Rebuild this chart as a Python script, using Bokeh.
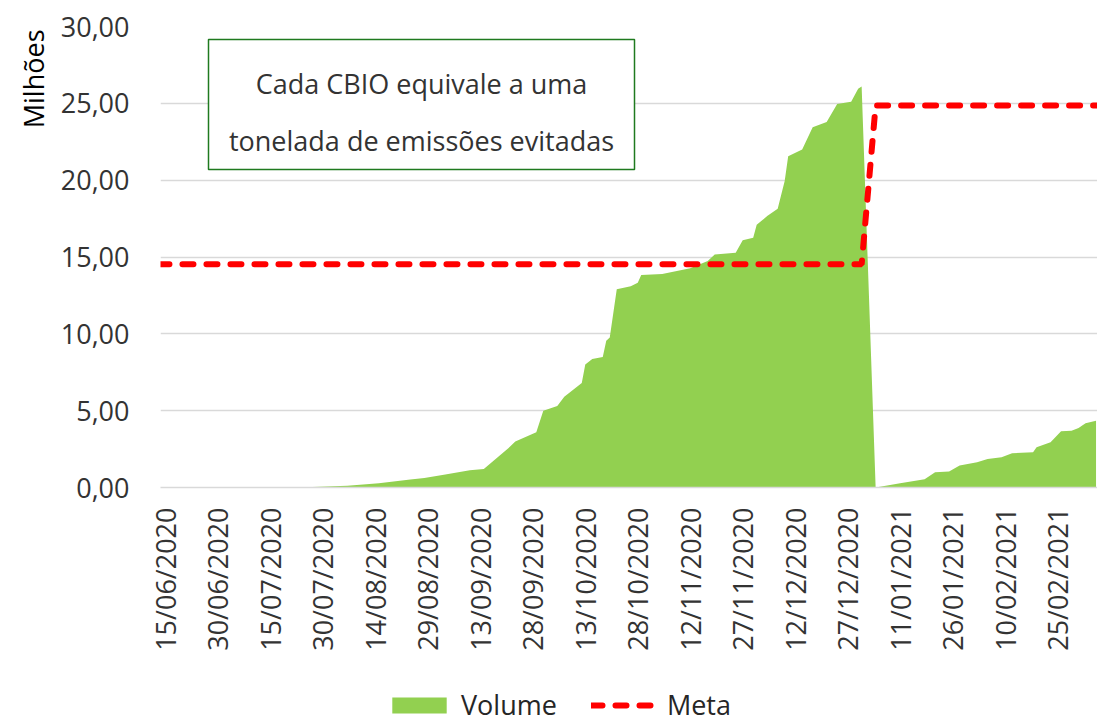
import math
import pandas as pd
from bokeh.plotting import figure
from bokeh.layouts import column, row
from bokeh.models import (FixedTicker, Range1d, Legend, LegendItem, Label, Title,
                          BoxAnnotation, DatetimeTickFormatter, Spacer)
from bokeh.embed import file_html
from bokeh.resources import INLINE

# ---------------- data ----------------
vol_dates = [
    "14/06/2020", "20/07/2020", "27/07/2020", "06/08/2020", "15/08/2020",
    "24/08/2020", "28/08/2020", "03/09/2020", "10/09/2020", "14/09/2020",
    "21/09/2020", "23/09/2020", "29/09/2020", "01/10/2020", "05/10/2020",
    "07/10/2020", "12/10/2020", "13/10/2020", "15/10/2020", "18/10/2020",
    "19/10/2020", "20/10/2020", "22/10/2020", "26/10/2020", "28/10/2020",
    "29/10/2020", "04/11/2020", "12/11/2020", "17/11/2020", "19/11/2020",
    "25/11/2020", "27/11/2020", "30/11/2020", "01/12/2020", "04/12/2020",
    "07/12/2020", "09/12/2020", "10/12/2020", "14/12/2020", "17/12/2020",
    "21/12/2020", "24/12/2020", "28/12/2020", "30/12/2020", "31/12/2020",
    "04/01/2021", "11/01/2021", "18/01/2021", "21/01/2021", "25/01/2021",
    "28/01/2021", "02/02/2021", "05/02/2021", "09/02/2021", "12/02/2021",
    "18/02/2021", "19/02/2021", "23/02/2021", "26/02/2021", "01/03/2021",
    "03/03/2021", "05/03/2021", "08/03/2021",
]
vol_values = [
    0.0, 0.0, 0.04, 0.12, 0.27,
    0.52, 0.62, 0.85, 1.12, 1.20,
    2.55, 3.00, 3.60, 5.00, 5.30,
    5.90, 6.80, 8.00, 8.36, 8.50,
    9.55, 9.76, 12.90, 13.10, 13.33,
    13.83, 13.90, 14.26, 14.74, 15.17,
    15.28, 16.09, 16.26, 17.10, 17.66,
    18.14, 19.94, 21.56, 22.00, 23.44,
    23.79, 24.96, 25.10, 25.95, 26.10,
    0.0, 0.28, 0.54, 1.00, 1.04,
    1.43, 1.64, 1.86, 1.97, 2.23,
    2.29, 2.62, 2.94, 3.66, 3.70,
    3.88, 4.18, 4.35,
]
meta_dates = ["13/06/2020", "31/12/2020", "04/01/2021", "08/03/2021"]
meta_values = [14.53, 14.53, 24.86, 24.86]

x_tick_labels = [
    "15/06/2020", "30/06/2020", "15/07/2020", "30/07/2020", "14/08/2020",
    "29/08/2020", "13/09/2020", "28/09/2020", "13/10/2020", "28/10/2020",
    "12/11/2020", "27/11/2020", "12/12/2020", "27/12/2020", "11/01/2021",
    "26/01/2021", "10/02/2021", "25/02/2021",
]
y_ticks = [0, 5, 10, 15, 20, 25, 30]
y_tick_labels = ["0,00", "5,00", "10,00", "15,00", "20,00", "25,00", "30,00"]

FONT = "Open Sans"
FS = "27px"
GREEN = "#92D050"
RED = "#FF0000"


def to_dt(lst):
    return pd.to_datetime(lst, format="%d/%m/%Y")


def to_ms(ts):
    return (ts - pd.Timestamp("1970-01-01")) // pd.Timedelta(milliseconds=1)


vx = to_dt(vol_dates)
mx = to_dt(meta_dates)
tx = to_dt(x_tick_labels)

x_start = to_dt(["15/06/2020"])[0] - pd.Timedelta(hours=34)
x_end = to_dt(["08/03/2021"])[0] + pd.Timedelta(hours=10)

W, H = 1097, 686
LEG_H = 716 - H
LEG_X = 385
BL, BR, BT, BB = 160, 0, 26, 199
FW, FH = W - BL - BR, H - BT - BB
F_LEFT, F_TOP = BL, BT

p = figure(width=W, height=H, x_axis_type="datetime",
           x_range=Range1d(x_start, x_end), y_range=Range1d(0, 30),
           min_border_left=BL, min_border_right=BR, min_border_top=BT,
           min_border_bottom=BB, output_backend="svg", toolbar_location=None)
p.outline_line_color = None
p.background_fill_color = "white"
p.border_fill_color = "white"

area = p.varea(x=vx, y1=0, y2=vol_values, fill_color=GREEN, fill_alpha=1.0)
meta = p.line(mx, meta_values, line_color=RED, line_width=6,
              line_dash="11 13", line_cap="round")

# axes
p.xaxis.ticker = FixedTicker(ticks=[float(to_ms(t)) for t in tx])
fmt = "%d/%m/%Y"
p.xaxis.formatter = DatetimeTickFormatter(days=fmt, months=fmt, years=fmt,
                                          hours=fmt, hourmin=fmt)
p.xaxis.major_label_orientation = math.pi / 2
p.xaxis.axis_line_color = "#d9d9d9"
p.xaxis.axis_line_width = 1.5
p.xaxis.major_tick_line_color = None
p.xaxis.minor_tick_line_color = None
p.xaxis.major_tick_out = 0
p.xaxis.major_label_standoff = 20
p.xaxis.major_label_text_font = FONT
p.xaxis.major_label_text_font_size = FS
p.xaxis.major_label_text_color = "#333333"

p.yaxis.ticker = FixedTicker(ticks=y_ticks)
p.yaxis.major_label_overrides = {t: s for t, s in zip(y_ticks, y_tick_labels)}
p.yaxis.axis_line_color = None
p.yaxis.major_tick_line_color = None
p.yaxis.minor_tick_line_color = None
p.yaxis.major_tick_out = 0
p.yaxis.major_label_standoff = 31
p.yaxis.major_label_text_font = FONT
p.yaxis.major_label_text_font_size = FS
p.yaxis.major_label_text_color = "#333333"

p.xgrid.visible = False
p.ygrid.grid_line_color = "#d9d9d9"
p.ygrid.grid_line_width = 1.5

# y-axis title at the top of the left side
p.add_layout(Title(text="Milhões", align="right", offset=3, standoff=12,
                   text_font=FONT, text_font_size=FS, text_font_style="normal",
                   text_color="#000000"), "left")

# helpers: page pixel -> data coordinates
xs_ms, xe_ms = float(to_ms(x_start)), float(to_ms(x_end))


def px_x(px):
    return xs_ms + (px - F_LEFT) / FW * (xe_ms - xs_ms)


def px_y(py):
    return (F_TOP + FH - py) / FH * 30


box = BoxAnnotation(left=px_x(208), right=px_x(634), top=px_y(39), bottom=px_y(169),
                    fill_color="white", fill_alpha=1.0,
                    line_color="#1F7A1F", line_alpha=1.0, line_width=1.5)
p.add_layout(box)
for txt, py in [("Cada CBIO equivale a uma", 83), ("tonelada de emissões evitadas", 140)]:
    p.add_layout(Label(x=px_x(421), y=px_y(py), text=txt, text_align="center",
                       text_baseline="middle", text_font=FONT, text_font_size=FS,
                       text_color="#333333"))

# ---------- legend strip below the chart ----------
# the series are re-drawn here outside the visible range only to feed the legend
pl = figure(width=W - LEG_X, height=LEG_H, x_range=Range1d(0, 1), y_range=Range1d(0, 1),
            x_axis_location=None, y_axis_location=None, min_border=0,
            output_backend="svg", toolbar_location=None)
pl.grid.visible = False
pl.outline_line_color = None
pl.background_fill_color = "white"
pl.border_fill_color = "white"
leg_area = pl.varea(x=vx, y1=0, y2=vol_values, fill_color=GREEN, fill_alpha=1.0)
leg_line = pl.line(mx, meta_values, line_color=RED, line_width=6,
                   line_dash="11 13", line_cap="round")
legend = Legend(items=[LegendItem(label="Volume", renderers=[leg_area]),
                       LegendItem(label="Meta", renderers=[leg_line])],
                orientation="horizontal", location="top_left",
                border_line_color=None, background_fill_alpha=0,
                glyph_width=68, glyph_height=20, label_standoff=8,
                spacing=34, padding=0, margin=0,
                label_text_font=FONT, label_text_font_size=FS,
                label_text_color="#262626")
pl.add_layout(legend)

layout = column(p, row(Spacer(width=LEG_X, height=LEG_H), pl, spacing=0), spacing=0)
open("out.html", "w").write(file_html(layout, INLINE))
